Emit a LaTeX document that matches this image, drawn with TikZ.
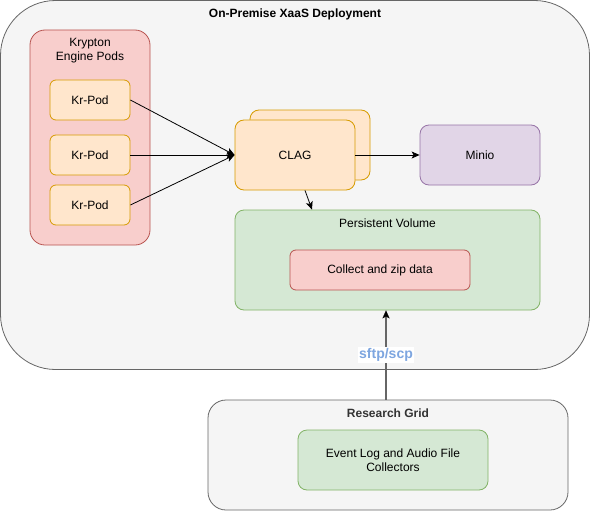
\documentclass[tikz,border=0pt]{standalone}
\usepackage{fontspec}
\setmainfont{Liberation Sans}
\usetikzlibrary{arrows.meta}
\definecolor{grayfill}{HTML}{F5F5F5}
\definecolor{grayline}{HTML}{666666}
\definecolor{redfill}{HTML}{F8CECC}
\definecolor{redline}{HTML}{B85450}
\definecolor{orangefill}{HTML}{FFE6CC}
\definecolor{orangeline}{HTML}{D79B00}
\definecolor{purplefill}{HTML}{E1D5E7}
\definecolor{purpleline}{HTML}{9673A6}
\definecolor{greenfill}{HTML}{D5E8D4}
\definecolor{greenline}{HTML}{82B366}
\definecolor{sftpblue}{HTML}{7EA6E0}

\tikzset{
		zone/.style={draw=grayline, fill=grayfill, line width=0.8pt},
		podgroup/.style={draw=redline, fill=redfill, line width=0.8pt, rounded corners=15pt},
		pod/.style={draw=orangeline, fill=orangefill, line width=0.8pt, rounded corners=6pt, minimum width=80pt, minimum height=40pt},
		service/.style={line width=0.8pt, rounded corners=9pt, minimum width=120pt},
		store/.style={draw=greenline, fill=greenfill, line width=0.8pt, rounded corners=9pt},
		txt/.style={font=\fontsize{12}{14}\selectfont, align=center},
		title/.style={font=\fontsize{12}{14}\selectfont\bfseries},
		arrow/.style={-{Stealth[length=8pt, width=7pt, inset=2pt]}, line width=0.8pt}
	}

\begin{document}
\begin{tikzpicture}[x=1pt, y=1pt]
\useasboundingbox (0,0) rectangle (591,-511);

% outer deployment
\node (onprem) at (295,-185) [zone, rounded corners=55pt, minimum width=589pt, minimum height=369pt] {};
\node (onpremtitle) at (295,-14) [title] {On-Premise XaaS Deployment};

% krypton pods
\node (kgroup) at (90,-137.5) [podgroup, minimum width=120pt, minimum height=215pt] {};
\node (ktitle) at (90,-51) [txt] {Krypton\\Engine Pods};
\node (pod1) at (90,-100) [pod, txt] {Kr-Pod};
\node (pod2) at (90,-155) [pod, txt] {Kr-Pod};
\node (pod3) at (90,-205) [pod, txt] {Kr-Pod};

% clag, minio
\node (clagback) at (310,-145) [service, draw=orangeline, fill=orangefill, minimum height=70pt] {};
\node (clag) at (295,-155) [service, txt, draw=orangeline, fill=orangefill, minimum height=70pt] {CLAG};
\node (minio) at (480,-155) [service, txt, draw=purpleline, fill=purplefill, minimum height=60pt] {Minio};

% persistent volume
\node (pv) at (387.5,-260) [store, minimum width=305pt, minimum height=100pt] {};
\node (pvtitle) at (387.5,-223) [txt] {Persistent Volume};
\node (zip) at (380,-270) [txt, draw=redline, fill=redfill, line width=0.8pt, rounded corners=6pt, minimum width=180pt, minimum height=40pt] {Collect and zip data};

% research grid
\node (grid) at (388,-455) [zone, rounded corners=18pt, minimum width=360pt, minimum height=110pt] {};
\node (gridtitle) at (388,-413) [title, text=black!80] {Research Grid};
\node (collectors) at (393,-460) [store, txt, minimum width=190pt, minimum height=60pt] {Event Log and Audio File\\Collectors};

\draw [arrow] (pod1.east) to (clag.west);
\draw [arrow] (pod2.east) to (clag.west);
\draw [arrow] (pod3.east) to (clag.west);
\draw [arrow] (clag.east) to (minio.west);
\draw [arrow] ([xshift=10pt]clag.south) to ([xshift=-75.5pt]pv.north);
\draw [draw=grayline, line width=1.6pt, -{Stealth[length=8pt, width=7pt, inset=2pt, color=black, line width=0.1pt]}] (grid.north -| 386,0) to node [fill=white, inner sep=1pt, text=sftpblue, font=\fontsize{14}{16}\selectfont\bfseries] {sftp/scp} (pv.south -| 386,0);

\end{tikzpicture}
\end{document}
